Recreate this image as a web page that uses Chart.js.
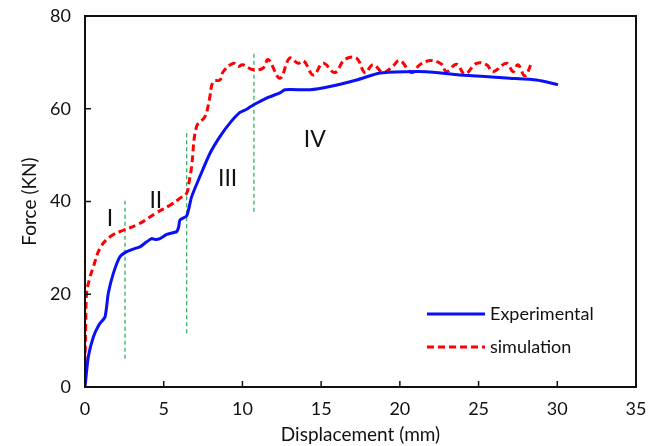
<!DOCTYPE html>
<html>
<head>
<meta charset="utf-8">
<script src="https://cdn.jsdelivr.net/npm/chart.js@4"></script>
<style>
  html, body { margin: 0; padding: 0; background: #fff; }
  canvas { display: block; }
</style>
</head>
<body>
<canvas id="chart" width="660" height="446"></canvas>
<script>
// experimental curve
const expX = [0, 0.21, 0.53, 0.9, 1.27, 1.48, 1.8, 2.22, 2.65, 3.1, 3.49, 3.8, 4.23, 4.5, 4.76, 5.19, 5.82, 5.95, 6.03, 6.46, 6.77, 7.3, 7.94, 8.57, 9.2, 9.84, 10.27, 10.69, 11.53, 12.38, 12.7, 14.29, 15.56, 17.25, 18.73, 20.42, 21.69, 23.8, 26.98, 28.68, 30.05];
const expY = [0, 6.5, 10.8, 13.5, 15.1, 20.2, 24.5, 28.1, 29.2, 29.8, 30.2, 31.0, 32.0, 31.8, 32.0, 32.9, 33.5, 34.5, 36.0, 36.9, 41.0, 45.4, 50.4, 54.0, 56.9, 59.2, 59.9, 60.8, 62.3, 63.4, 64.1, 64.1, 64.8, 66.2, 67.7, 68.0, 68.0, 67.3, 66.6, 66.2, 65.2];

// simulation curve
const simX = [0, 0.05, 0.1, 0.3, 0.53, 0.95, 1.59, 2.43, 3.38, 4.55, 5.4, 6.03, 6.46, 6.6, 6.77, 7.09, 7.62, 7.9, 8.15, 8.57, 8.78, 9.42, 9.73, 10.0, 10.69, 11.32, 11.64, 12.38, 13.0, 13.54, 13.9, 14.5, 15.13, 15.87, 16.5, 17.25, 17.78, 18.3, 18.94, 19.5, 20.0, 20.74, 21.27, 22.0, 22.65, 22.96, 23.6, 24.13, 24.87, 25.5, 25.92, 26.77, 27.2, 27.5, 27.94, 28.36];
const simY = [5, 14, 20.2, 23.5, 25.9, 29.9, 32.4, 33.8, 35.1, 37.6, 39.2, 40.7, 41.8, 44, 47.5, 56.2, 58.3, 62, 65.9, 66.2, 68.0, 69.8, 69.1, 69.5, 68.4, 68.8, 70.6, 66.6, 70.9, 69.8, 70.3, 67.3, 69.8, 67.8, 70.6, 70.9, 67.8, 69.5, 67.8, 69.0, 70.4, 67.8, 69.5, 70.4, 69.6, 68.0, 69.6, 67.5, 69.8, 69.5, 68.0, 69.8, 68.0, 69.5, 67.1, 69.8];

// stage dividers
const stageX = [2.54, 6.46, 10.73];
const stageLow = [6.1, 11.6, 37.8];
const stageHigh = [40.7, 55.4, 72.4];

// stage labels
const stageText = ['I', 'II', 'III', 'IV'];
const stageTextX = [1.59, 4.5, 9.06, 14.6];
const stageTextY = [36.4, 40.3, 44.9, 53.3];

const xTicks = [0, 5, 10, 15, 20, 25, 30, 35];
const yTicks = [0, 20, 40, 60, 80];

const FONT = 'Lato, "Open Sans", sans-serif';
const toPts = (xs, ys) => xs.map((x, i) => ({ x: x, y: ys[i] }));

const datasets = [
    {
        label: 'Experimental',
        data: toPts(expX, expY),
        borderColor: '#0a10f5',
        borderWidth: 3,
        pointRadius: 0,
        tension: 0.2,
        fill: false
    },
    {
        label: 'simulation',
        data: toPts(simX, simY),
        borderColor: '#ff0000',
        borderWidth: 3,
        borderDash: [7, 4],
        pointRadius: 0,
        tension: 0.4,
        fill: false
    }
];
stageX.forEach((x, i) => {
    datasets.push({
        label: 'stage' + i,
        data: [{ x: x, y: stageLow[i] }, { x: x, y: stageHigh[i] }],
        borderColor: '#22aa55',
        borderWidth: 1.2,
        borderDash: [4, 3],
        pointRadius: 0,
        fill: false
    });
});

// frame, inward ticks, stage labels and the legend
const decorations = {
    id: 'decorations',
    afterDraw(chart) {
        const { ctx, chartArea: a, scales } = chart;
        ctx.save();
        ctx.strokeStyle = '#111';
        ctx.lineWidth = 2;
        ctx.strokeRect(a.left, a.top, a.right - a.left, a.bottom - a.top);
        ctx.lineWidth = 1.5;
        xTicks.forEach(t => {
            const px = scales.x.getPixelForValue(t);
            ctx.beginPath();
            ctx.moveTo(px, a.bottom);
            ctx.lineTo(px, a.bottom - 6);
            ctx.stroke();
        });
        yTicks.forEach(t => {
            const py = scales.y.getPixelForValue(t);
            ctx.beginPath();
            ctx.moveTo(a.left, py);
            ctx.lineTo(a.left + 6, py);
            ctx.stroke();
        });

        ctx.fillStyle = '#111';
        ctx.font = '23px ' + FONT;
        ctx.textAlign = 'center';
        ctx.textBaseline = 'middle';
        stageText.forEach((s, i) => {
            ctx.fillText(s, scales.x.getPixelForValue(stageTextX[i]), scales.y.getPixelForValue(stageTextY[i]));
        });

        // legend
        const lx = 427, ly = [314, 347];
        ctx.font = '18px ' + FONT;
        ctx.textAlign = 'left';
        chart.data.datasets.slice(0, 2).forEach((d, i) => {
            ctx.strokeStyle = d.borderColor;
            ctx.lineWidth = 3;
            ctx.setLineDash(d.borderDash || []);
            ctx.beginPath();
            ctx.moveTo(lx, ly[i]);
            ctx.lineTo(lx + 58, ly[i]);
            ctx.stroke();
            ctx.setLineDash([]);
            ctx.fillStyle = '#111';
            ctx.fillText(d.label, lx + 63, ly[i]);
        });
        ctx.restore();
    }
};

new Chart(document.getElementById('chart'), {
    type: 'line',
    data: { datasets: datasets },
    options: {
        responsive: false,
        animation: false,
        layout: { padding: { top: 16, right: 24, left: 0, bottom: 0 } },
        plugins: { legend: { display: false }, tooltip: { enabled: false } },
        scales: {
            x: {
                type: 'linear',
                min: 0,
                max: 35,
                grid: { display: false, drawTicks: false },
                border: { display: false },
                afterBuildTicks: s => { s.ticks = xTicks.map(v => ({ value: v })); },
                afterFit: s => { s.height = 59; s.paddingLeft = 0; s.paddingRight = 0; },
                ticks: { color: '#111', font: { family: FONT, size: 18 }, padding: 11, maxRotation: 0 },
                title: { display: true, text: 'Displacement (mm)', color: '#111', font: { family: FONT, size: 19 }, padding: { top: 0, bottom: 0 } }
            },
            y: {
                min: 0,
                max: 80,
                grid: { display: false, drawTicks: false },
                border: { display: false },
                afterBuildTicks: s => { s.ticks = yTicks.map(v => ({ value: v })); },
                afterFit: s => { s.width = 85; s.paddingTop = 0; s.paddingBottom = 0; },
                ticks: { color: '#111', font: { family: FONT, size: 18 }, padding: 14 },
                title: { display: true, text: 'Force (KN)', color: '#111', font: { family: FONT, size: 19 }, padding: { top: 18, bottom: 0 } }
            }
        }
    },
    plugins: [decorations]
});
</script>
</body>
</html>
